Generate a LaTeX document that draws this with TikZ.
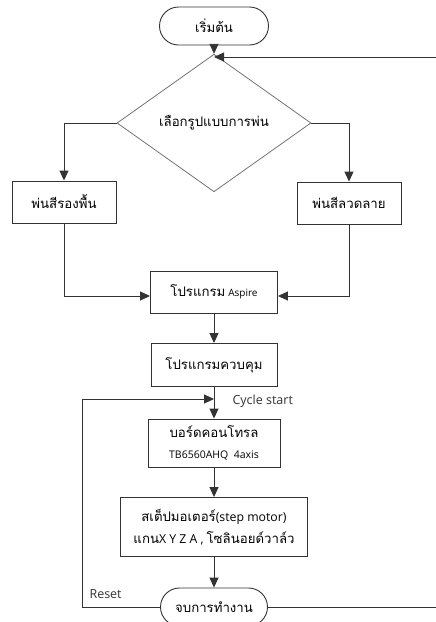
\documentclass[tikz,border=0pt]{standalone}
\usepackage{fontspec}
\setmainfont{Open Sans}
\newfontfamily\thaifont[Script=Thai,Scale=1.15]{Loma}
\usetikzlibrary{shapes.geometric}
\usetikzlibrary{arrows.meta}
\usetikzlibrary{positioning}
\newcommand{\tht}[1]{{\thaifont #1}}
\newcommand{\lat}[1]{{\fontsize{12.3}{22}\selectfont #1}}

\begin{document}
\begin{tikzpicture}[x=1pt,y=-1pt,
	line/.style={draw=black!80, line width=0.9pt},
	flow/.style={line, -{Triangle[length=10pt,width=9pt]}},
	box/.style={rectangle, draw=black!80, line width=0.9pt, align=center, inner sep=2pt, font=\fontsize{11.5}{22}\selectfont},
	term/.style={box, rounded corners=19pt, minimum height=38pt},
	choice/.style={diamond, draw=black!55, line width=0.8pt, minimum width=194pt, minimum height=92pt, align=center, font=\fontsize{11.5}{22}\selectfont},
	lbl/.style={font=\fontsize{12.5}{14}\selectfont, text=black!80}]
	\useasboundingbox (0,0) rectangle (436,622);
	\clip (0,0) rectangle (436,622);

	\node[term, minimum width=109pt] (start) at (214,26) {\tht{เริ่มต้น}};
	\node[choice] (dec) at (214,123) {\tht{เลือกรูปแบบการพ่น}};
	\node[box, minimum width=104pt, minimum height=42pt] (base) at (64,202) {\tht{พ่นสีรองพื้น}};
	\node[box, minimum width=104pt, minimum height=42pt] (pattern) at (349,203) {\tht{พ่นสีลวดลาย}};
	\node[box, minimum width=127pt, minimum height=42pt] (aspire) at (214,292) {\tht{โปรแกรม} {\fontsize{10}{12}\selectfont Aspire}};
	\node[box, minimum width=126pt, minimum height=43pt] (ctrl) at (214,365) {\tht{โปรแกรมควบคุม}};
	\node[box, minimum width=132pt, minimum height=48pt] (board) at (214,443) {\tht{บอร์ดคอนโทรล}\\[-1pt]{\fontsize{10.5}{12}\selectfont TB6560AHQ\ \ 4axis}};
	\node[box, minimum width=187pt, minimum height=59pt] (motor) at (214,527) {\tht{สเต็ปมอเตอร์}\lat{(step motor)}\\\tht{แกน}\lat{X Y Z A ,} \tht{โซลินอยด์วาล์ว}};
	\node[term, minimum width=107pt] (stop) at (214,607) {\tht{จบการทำงาน}};

	\node[lbl, anchor=west] (cyclbl) at (229,401) {Cycle start};
	\node[lbl, anchor=west] (rstlbl) at (86,594) {Reset};

	\coordinate (back) at (214,57);
	\coordinate (farright) at (446,607);
	\coordinate (cyc) at (214,399);
	\coordinate (farleft) at (82,607);

	\draw[flow] (start) -- (dec);
	\draw[flow] (stop.east) -- (farright) |- (back);
	\draw[flow] (dec.west) -| (base);
	\draw[flow] (dec.east) -| (pattern);
	\draw[flow] (base) |- ([yshift=-4pt]aspire.west);
	\draw[flow] (pattern) |- ([yshift=-4pt]aspire.east);
	\draw[flow] (aspire) -- (ctrl);
	\draw[flow] (ctrl) -- (board);
	\draw[flow] (stop.west) -- (farleft) |- (cyc);
	\draw[flow] (board) -- (motor);
	\draw[flow] (motor) -- (stop);
\end{tikzpicture}
\end{document}
